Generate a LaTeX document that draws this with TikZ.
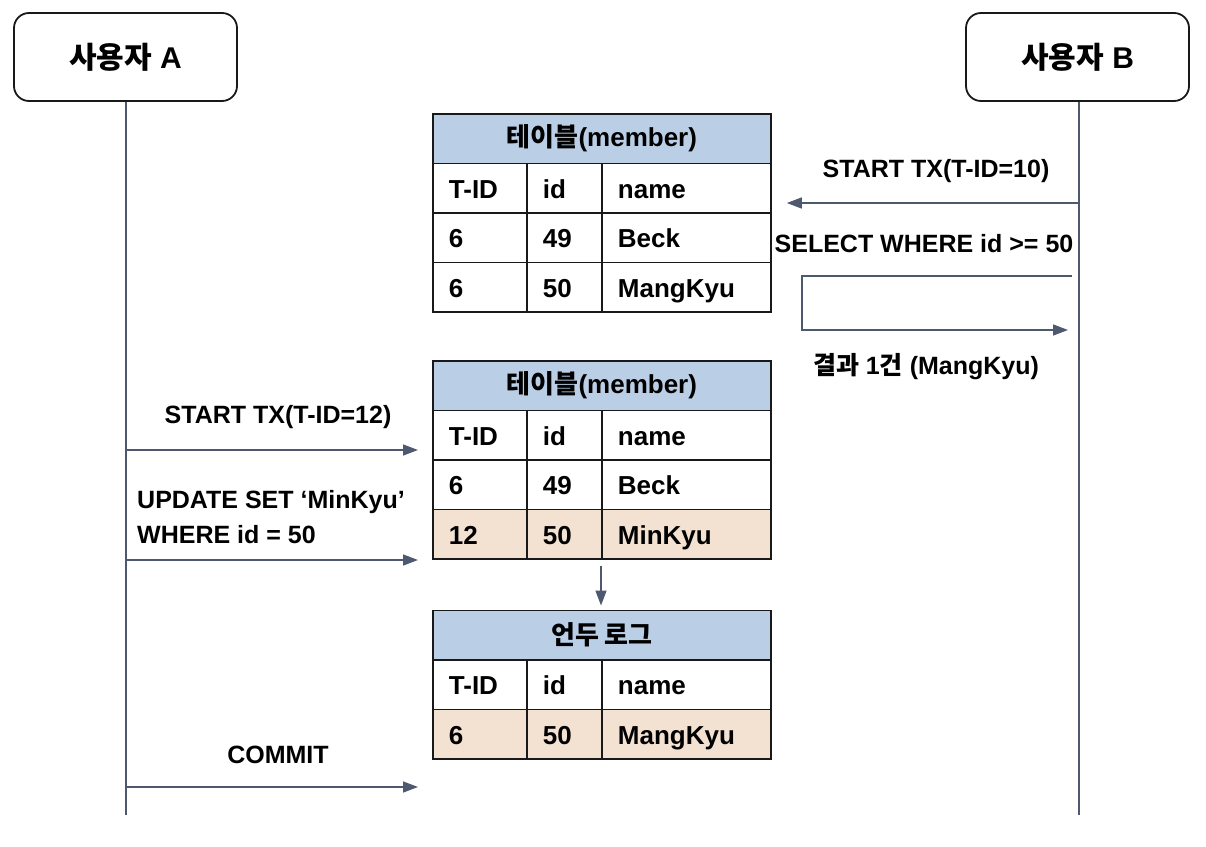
\documentclass[tikz,border=0pt]{standalone}
\usepackage{fontspec}
\setmainfont{Liberation Sans}
\newfontfamily\kr{Noto Sans CJK KR}
\usetikzlibrary{arrows.meta, calc}

\definecolor{lifeline}{RGB}{78,89,112}
\definecolor{headblue}{RGB}{186,206,230}
\definecolor{rowbeige}{RGB}{243,226,210}

\tikzstyle{actor} = [rectangle, rounded corners = 15pt, minimum width = 223pt,
	minimum height = 88pt, line width = 1.8pt, draw = black!90,
	font = \fontsize{30}{34}\selectfont\bfseries]
\tikzstyle{header} = [rectangle, anchor = north west, minimum width = 338pt,
	minimum height = 49.5pt, line width = 1.8pt, draw = black!90, fill = headblue,
	font = \fontsize{26}{30}\selectfont\bfseries]
\tikzstyle{cell} = [rectangle, anchor = north west, minimum height = 49.5pt,
	inner xsep = 16pt, inner ysep = 0pt, text height = 21pt, text depth = 1pt,
	align = left, line width = 1.8pt, draw = black!90,
	font = \fontsize{26}{30}\selectfont\bfseries]
\tikzstyle{msg} = [line width = 1.5pt, draw = lifeline,
	-{Triangle[length = 15pt, width = 11pt]}]
\tikzstyle{life} = [line width = 1.5pt, draw = lifeline]
\tikzstyle{msgtext} = [inner sep = 0pt, font = \fontsize{25}{35}\selectfont\bfseries]

\newcommand{\tablerow}[6]{
	\node (#1a) [cell, text width = 62pt, fill = #3] at (432,#2) {#4};
	\node (#1b) [cell, text width = 43pt, fill = #3] at (526,#2) {#5};
	\node (#1c) [cell, text width = 137pt, fill = #3] at (601,#2) {#6};
}

\begin{document}
\begin{tikzpicture}[x = 1pt, y = -1pt]
\useasboundingbox (0,0) rectangle (1206,846);

% users and lifelines
\node (userA) [actor] at (125.5,57) {{\kr 사용자} A};
\node (userB) [actor] at (1077.5,57) {{\kr 사용자} B};
\coordinate (endA) at (126,815);
\coordinate (endB) at (1079,815);
\draw [life] (userA.south -| endA) -- (endA);
\draw [life] (userB.south -| endB) -- (endB);

% table seen by B
\node (t1h) [header] at (432,113) {{\kr 테이블}(member)};
\tablerow{t1r1}{162.5}{white}{T-ID}{id}{name}
\tablerow{t1r2}{212}{white}{6}{49}{Beck}
\tablerow{t1r3}{261.5}{white}{6}{50}{MangKyu}

% table after update
\node (t2h) [header] at (432,360) {{\kr 테이블}(member)};
\tablerow{t2r1}{409.5}{white}{T-ID}{id}{name}
\tablerow{t2r2}{459}{white}{6}{49}{Beck}
\tablerow{t2r3}{508.5}{rowbeige}{12}{50}{MinKyu}

% undo log
\node (t3h) [header] at (432,609.5) {{\kr 언두 로그}};
\tablerow{t3r1}{659}{white}{T-ID}{id}{name}
\tablerow{t3r2}{708.5}{rowbeige}{6}{50}{MangKyu}

\draw [msg] ([yshift = -6pt]t2r3c.south west) -- ($(t2r3c.south west |- t3h.north)+(0,4pt)$);

% user B
\coordinate (b1) at (1079,203);
\coordinate (b2) at (1072,276);
\coordinate (b3) at (1068,330);
\node (txB) [msgtext] at (936,171) {START TX(T-ID=10)};
\draw [msg] (b1) -- ($(b1 -| t1r1c.east)+(15pt,0)$);
\node (selB) [msgtext] at (924,244) {SELECT WHERE id >= 50};
\draw [msg] (b2) -| ($(t1r3c.east |- b3)+(30pt,0)$) -- (b3);
\node (resB) [msgtext] at (926,367) {{\kr 결과} 1{\kr 건} (MangKyu)};

% user A
\coordinate (a1) at (126,450);
\coordinate (a2) at (126,560);
\coordinate (a3) at (126,787);
\node (txA) [msgtext] at (278,417) {START TX(T-ID=12)};
\draw [msg] (a1) -- ($(a1 -| t2h.west)+(-14pt,0)$);
\node (updA) [msgtext, anchor = west, align = left] at (137,517)
	{UPDATE SET ‘MinKyu’\\WHERE id = 50};
\draw [msg] (a2) -- ($(a2 -| t2h.west)+(-14pt,0)$);
\node (commitA) [msgtext] at (278,755) {COMMIT};
\draw [msg] (a3) -- ($(a3 -| t2h.west)+(-14pt,0)$);

\end{tikzpicture}
\end{document}
